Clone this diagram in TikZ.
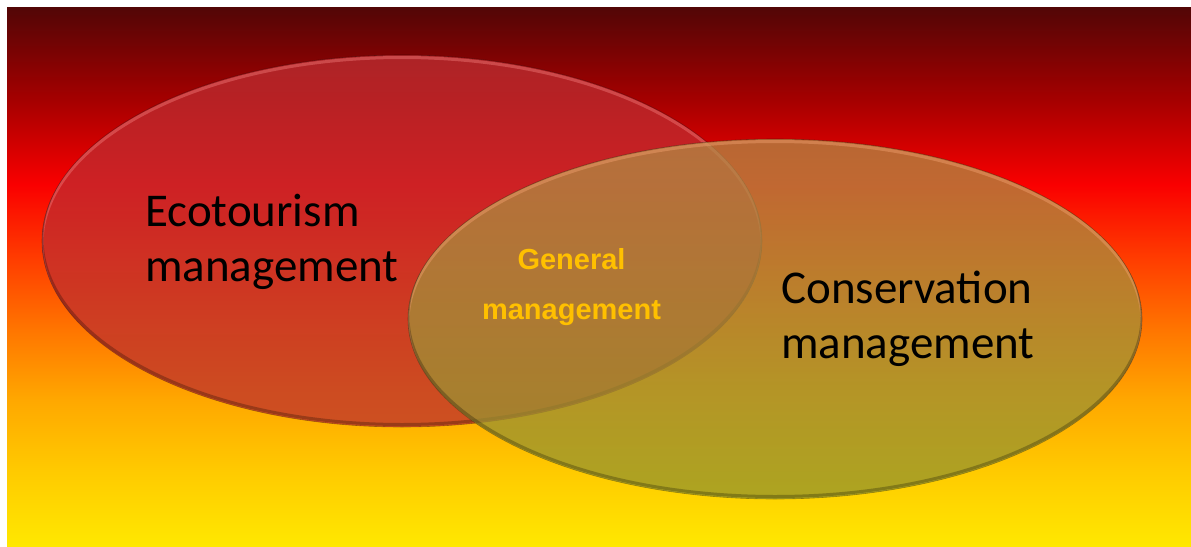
\documentclass[tikz,border=0pt]{standalone}
\usepackage{fontspec}
\setmainfont{Carlito}
\newfontfamily\arialfont{Liberation Sans}
\definecolor{bg1}{RGB}{255,232,0}
\definecolor{bg2}{RGB}{255,202,0}
\definecolor{bg3}{RGB}{255,168,0}
\definecolor{bg4}{RGB}{255,118,0}
\definecolor{bg5}{RGB}{255,62,0}
\definecolor{bg6}{RGB}{250,0,0}
\definecolor{bg7}{RGB}{165,0,0}
\definecolor{bg8}{RGB}{82,6,6}
\pgfdeclareverticalshading{bgshade}{100bp}{color(0bp)=(bg1); color(25bp)=(bg1); color(32bp)=(bg2); color(38.5bp)=(bg3); color(45bp)=(bg4); color(51.5bp)=(bg5); color(58.5bp)=(bg6); color(66.4bp)=(bg7); color(75bp)=(bg8); color(100bp)=(bg8)}
\definecolor{eonetop}{RGB}{192,48,52}
\definecolor{eonebot}{RGB}{186,42,46}
\definecolor{etwotop}{RGB}{178,138,70}
\definecolor{etwobot}{RGB}{146,148,44}
\definecolor{gold}{RGB}{255,192,0}
\definecolor{rimone}{RGB}{240,120,120}
\definecolor{rimtwo}{RGB}{240,160,110}
\tikzset{
  bigtext/.style={font=\fontsize{47}{55}\selectfont, text=black, inner sep=0pt, align=left},
  midtext/.style={font=\arialfont\bfseries\fontsize{29}{50}\selectfont, text=gold, inner sep=0pt, align=center},
  hilite/.style={draw opacity=0.45, line width=3pt},
  lowlite/.style={black, draw opacity=0.25, line width=3pt},
  edge/.style={black, draw opacity=0.3, line width=0.6pt}
}
\begin{document}
\begin{tikzpicture}[x=1pt,y=-1pt]
\useasboundingbox (0,0) rectangle (1191,546);
\shade[shading=bgshade] (7,7) rectangle (1191,546);
% ellipse 1
\path[shade, top color=eonetop, bottom color=eonebot, fill opacity=0.72] (402,241) ellipse [x radius=360, y radius=186];
\begin{scope}
  \clip (402,241) ellipse [x radius=360, y radius=186];
  \draw[hilite, rimone] (402,243.5) ellipse [x radius=360, y radius=186];
  \draw[lowlite] (402,238.5) ellipse [x radius=360, y radius=186];
\end{scope}
\draw[edge] (402,241) ellipse [x radius=360, y radius=186];
% ellipse 2
\path[shade, top color=etwotop, bottom color=etwobot, fill opacity=0.75] (775,319) ellipse [x radius=367, y radius=180];
\begin{scope}
  \clip (775,319) ellipse [x radius=367, y radius=180];
  \draw[hilite, rimtwo] (775,321.5) ellipse [x radius=367, y radius=180];
  \draw[lowlite] (775,316.5) ellipse [x radius=367, y radius=180];
\end{scope}
\draw[edge] (775,319) ellipse [x radius=367, y radius=180];
% texts
\node[bigtext, anchor=base west] (eco) at (145,281) {Ecotourism\\management};
\node[bigtext, anchor=base west] (cons) at (781,358) {Conservation\\management};
\node[midtext, anchor=base] (gen) at (571.5,319) {General\\management};
\end{tikzpicture}
\end{document}
